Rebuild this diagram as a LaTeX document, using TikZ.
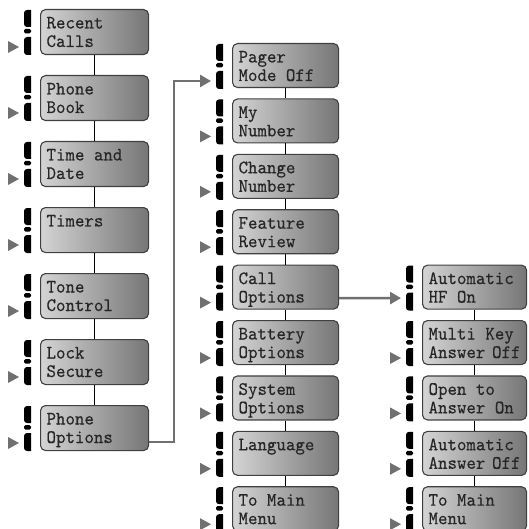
\documentclass[tikz,border=0pt]{standalone}
\usepackage{fontspec}
\usepackage{tikz}
\usetikzlibrary{calc, arrows.meta}

\newfontfamily\menufont{lmmono10-regular}[Extension=.otf, FakeStretch=0.95, FakeBold=0.3]

\definecolor{boxlight}{RGB}{212,212,212}
\definecolor{boxdark}{RGB}{118,118,118}
\definecolor{boxedge}{RGB}{64,64,64}
\definecolor{linkgray}{RGB}{112,112,112}

% key symbol drawn left of a menu box
\newcommand{\keyicon}[1]{%
  \fill ($(#1.north west)+(-9,-1)$) -- ++(-4,0)
    arc[start angle=90, end angle=180, radius=3] -- ++(0,-11)
    arc[start angle=180, end angle=270, radius=3] -- ++(4,0) -- cycle;
  \fill[rounded corners=1.5pt] ($(#1.north west)+(-16,-20)$)
    rectangle ($(#1.north west)+(-9,-24.5)$);
  \fill ($(#1.north west)+(-9,-28)$) -- ++(-4,0)
    arc[start angle=90, end angle=180, radius=3] -- ++(0,-12)
    arc[start angle=180, end angle=270, radius=3] -- ++(4,0) -- cycle;
}
% small pointer in front of the key symbol
\newcommand{\keypointer}[1]{%
  \fill[linkgray] ($(#1.north west)+(-32,-32)$) -- ++(0,-12) -- ++(11,6) -- cycle;
}

\begin{document}
\begin{tikzpicture}[
  x=1pt, y=1pt,
  menubox/.style 2 args={draw=boxedge, line width=1.1pt, rounded corners=5pt,
    left color=boxlight, right color=boxdark, anchor=north west,
    inner sep=6pt, text=black!85,
    font=\menufont\fontsize{19}{18.5}\selectfont,
    execute at begin node={\begin{minipage}[c][#2][t]{#1}\strut},
    execute at end node={\end{minipage}}},
  link/.style={black, line width=1.3pt},
  jump/.style={linkgray, line width=2.6pt, -{Triangle[length=11pt, width=12pt]}},
]
  \useasboundingbox (0,0) rectangle (528,-529);

  % main menu
  \foreach \name/\txt [count=\i from 0] in {recent/{Recent\\Calls},
      book/{Phone\\Book}, clock/{Time~and\\Date}, timers/Timers,
      tone/{Tone\\Control}, lock/{Lock\\Secure}, options/{Phone\\Options}}
    \node[menubox={96pt}{33pt}] (\name) at (40,{-9-66*\i}) {\txt};

  % phone options submenu
  \foreach \name/\txt [count=\i from 0] in {pager/{Pager\\Mode~Off},
      mynum/{My\\Number}, change/{Change\\Number}, review/{Feature\\Review},
      call/{Call\\Options}, battery/{Battery\\Options},
      system/{System\\Options}, language/Language, backa/{To~Main\\Menu}}
    \node[menubox={94pt}{32pt}] (\name) at (232,{-43-55.4*\i}) {\txt};

  % call options submenu
  \foreach \name/\txt [count=\i from 0] in {autohf/{Automatic\\HF~On},
      multikey/{Multi~Key\\Answer~Off}, opento/{Open~to\\Answer~On},
      autoans/{Automatic\\Answer~Off}, backb/{To~Main\\Menu}}
    \node[menubox={92pt}{32pt}] (\name) at (422,{-264.6-55.4*\i}) {\txt};

  % links inside each column
  \foreach \a/\b in {recent/book, book/clock, clock/timers, timers/tone,
      tone/lock, lock/options, pager/mynum, mynum/change, change/review,
      review/call, call/battery, battery/system, system/language,
      language/backa, autohf/multikey, multikey/opento, opento/autoans,
      autoans/backb}
    \draw[link] (\a.south) -- (\b.north);

  % key symbols
  \foreach \name in {recent, book, clock, timers, tone, lock, options,
      pager, mynum, change, review, call, battery, system, language, backa,
      autohf, multikey, opento, autoans, backb}
    \keyicon{\name};
  \foreach \name in {recent, book, clock, timers, tone, lock, options,
      mynum, change, review, call, battery, system, language, backa,
      multikey, opento, autoans, backb}
    \keypointer{\name};

  % jumps into the submenus
  \coordinate (optsout) at ($(options.north east)+(0,-37)$);
  \coordinate (pagerin) at ($(pager.north west)+(-21,-38)$);
  \draw[jump] (optsout) -- ++(25,0) |- (pagerin);
  \coordinate (callout) at ($(call.north east)+(0,-33.5)$);
  \coordinate (autoin) at ($(autohf.north west)+(-21,-33.5)$);
  \draw[jump] (callout) -- (autoin);
\end{tikzpicture}
\end{document}
